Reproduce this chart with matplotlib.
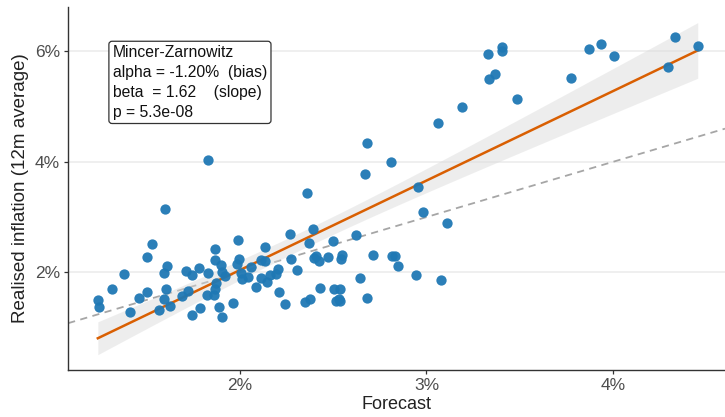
import matplotlib

matplotlib.use("Agg")
import matplotlib.pyplot as plt
import numpy as np
from matplotlib.ticker import FuncFormatter

# Forecast vs realised inflation (% values)
forecast = [
    4.330, 4.454, 4.292, 3.933, 3.869, 4.005, 3.777, 3.487, 3.403, 3.403,
    3.328, 3.368, 3.336, 3.190, 3.061, 2.682, 2.810, 2.669, 2.957, 2.984,
    3.110, 3.076, 2.944, 1.831, 1.601, 2.359, 2.394, 2.270, 2.369, 2.498,
    2.625, 1.527, 1.502, 1.378, 1.313, 1.239, 1.247, 1.410, 1.462, 1.504,
    1.569, 1.594, 1.628, 1.603, 1.591, 1.611, 1.688, 1.722, 1.710, 1.745,
    1.779, 1.742, 1.789, 1.831, 1.822, 1.859, 1.869, 1.871, 1.886, 1.906,
    1.866, 1.866, 1.898, 1.906, 1.918, 1.965, 1.983, 1.993, 1.990, 2.007,
    2.010, 2.045, 2.059, 2.087, 2.112, 2.116, 2.134, 2.134, 2.146, 2.164,
    2.196, 2.203, 2.211, 2.240, 2.273, 2.307, 2.347, 2.374, 2.409, 2.399,
    2.424, 2.431, 2.473, 2.506, 2.515, 2.535, 2.538, 2.540, 2.550, 2.644,
    2.684, 2.711, 2.813, 2.833, 2.848, 2.530,
]
realised = [
    6.253, 6.090, 5.717, 6.133, 6.048, 5.916, 5.512, 5.133, 6.084, 6.000,
    5.958, 5.590, 5.506, 5.000, 4.705, 4.337, 3.988, 3.777, 3.536, 3.090,
    2.892, 1.855, 1.952, 4.024, 3.151, 3.428, 2.777, 2.693, 2.524, 2.572,
    2.669, 2.512, 2.277, 1.976, 1.693, 1.500, 1.373, 1.283, 1.542, 1.645,
    1.313, 1.512, 1.392, 1.705, 1.994, 2.108, 1.578, 1.669, 2.030, 1.946,
    2.078, 1.229, 1.355, 1.994, 1.584, 1.584, 1.705, 1.813, 1.380, 1.199,
    2.422, 2.223, 2.133, 2.012, 1.934, 1.440, 2.151, 2.235, 2.584, 1.982,
    1.873, 1.916, 2.102, 1.729, 1.892, 2.217, 2.458, 2.211, 1.819, 1.946,
    1.964, 2.066, 1.651, 1.428, 2.235, 2.048, 1.470, 1.512, 2.295, 2.253,
    2.205, 1.717, 2.271, 1.693, 1.482, 1.482, 1.699, 2.241, 2.313, 1.904,
    1.530, 2.307, 2.295, 2.301, 2.114, 1.512,
]

# Mincer-Zarnowitz coefficients as printed on the chart
ALPHA = -1.20
BETA = 1.62
MZ_LINES = [
    "Mincer-Zarnowitz",
    "alpha = -1.20%  (bias)",
    "beta  = 1.62    (slope)",
    "p = 5.3e-08",
]

x_ticks = [2, 3, 4]
y_ticks = [2, 4, 6]

POINT = "#1f78b4"
FIT = "#d95f02"
BAND = "#d9d9d9"
GRID = "#ebebeb"
TICK_TXT = "#4d4d4d"

plt.rcParams["font.family"] = ["Liberation Sans", "DejaVu Sans"]

x = np.asarray(forecast)
y = np.asarray(realised)

# fitted line + 95% confidence band
xs = np.linspace(x.min(), x.max(), 100)
ys = ALPHA + BETA * xs
resid = y - (ALPHA + BETA * x)
n = len(x)
s = np.sqrt(np.sum(resid ** 2) / (n - 2))
sxx = np.sum((x - x.mean()) ** 2)
se = s * np.sqrt(1.0 / n + (xs - x.mean()) ** 2 / sxx)
ci = 1.983 * se

fig = plt.figure(figsize=(7.25, 4.17), dpi=100)
ax = fig.add_axes([0.094, 0.113, 0.906, 0.870])

for v in y_ticks:
    ax.axhline(v, color=GRID, lw=1.1, zorder=0)

ax.axline((0, 0), slope=1, color="#a6a6a6", lw=1.3, ls=(0, (4, 3)), zorder=1)
ax.fill_between(xs, ys - ci, ys + ci, color=BAND, alpha=0.45, lw=0, zorder=2)
ax.plot(xs, ys, color=FIT, lw=1.8, zorder=3)
ax.scatter(x, y, s=55, color=POINT, alpha=0.95, lw=0, zorder=4)

ax.set_xlim(1.08, 4.60)
ax.set_ylim(0.235, 6.80)
ax.set_xticks(x_ticks)
ax.set_yticks(y_ticks)
pct = FuncFormatter(lambda v, _: f"{v:.0f}%")
ax.xaxis.set_major_formatter(pct)
ax.yaxis.set_major_formatter(pct)

ax.set_xlabel("Forecast", fontsize=13, color="#222222", labelpad=2)
ax.set_ylabel("Realised inflation (12m average)", fontsize=13.5, color="#222222", labelpad=4)

for side in ("top", "right"):
    ax.spines[side].set_visible(False)
for side in ("left", "bottom"):
    ax.spines[side].set_color("#333333")
    ax.spines[side].set_linewidth(1.0)
ax.tick_params(labelsize=12.5, labelcolor=TICK_TXT, color="#333333", length=3, width=0.9, pad=3)

ax.text(0.068, 0.895, "\n".join(MZ_LINES), transform=ax.transAxes,
        fontsize=11.3, va="top", ha="left", linespacing=1.4, color="#111111",
        bbox=dict(boxstyle="round,pad=0.25,rounding_size=0.2", fc="white",
                  ec="#333333", lw=0.9))

fig.savefig("out.png", dpi=100, facecolor="white")
